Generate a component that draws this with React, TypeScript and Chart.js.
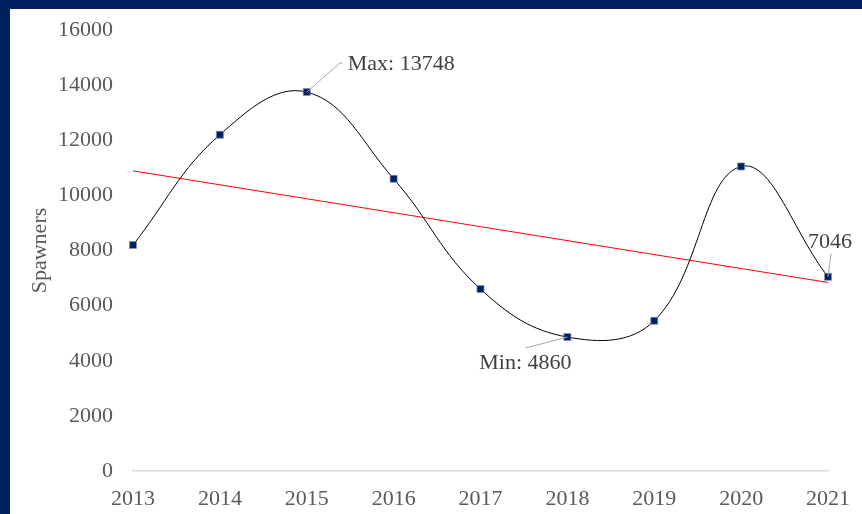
import React, { useEffect, useRef } from "react";
import { Chart, registerables } from "chart.js";

Chart.register(...registerables);

const years = ["2013", "2014", "2015", "2016", "2017", "2018", "2019", "2020", "2021"];
const spawners = [8200, 12200, 13748, 10600, 6600, 4860, 5450, 11050, 7046];
const trend = [10890, null, null, null, null, null, null, null, 6840];
const yTicks = [0, 2000, 4000, 6000, 8000, 10000, 12000, 14000, 16000];

const FONT = "'Liberation Serif', 'Times New Roman', serif";
const NAVY = "#002060";

const labelPlugin = {
  id: "pointLabels",
  afterDatasetsDraw(chart: any) {
    const meta = chart.getDatasetMeta(0);
    const ctx = chart.ctx;
    const pts = meta.data;
    const items = [
      { i: 2, text: "Max: " + spawners[2], lx: 36, ly: -29, kink: 33, tx: 41, ty: -28, align: "left" },
      { i: 5, text: "Min: " + spawners[5], lx: -42, ly: 11, kink: null, tx: -42, ty: 26, align: "center" },
      { i: 8, text: String(spawners[8]), lx: 3, ly: -23, kink: null, tx: 2, ty: -35, align: "center" },
    ];
    ctx.save();
    for (const it of items) {
      const p = pts[it.i];
      ctx.strokeStyle = "#a6a6a6";
      ctx.lineWidth = 1;
      ctx.beginPath();
      ctx.moveTo(p.x, p.y);
      if (it.kink !== null) {
        ctx.lineTo(p.x + it.kink, p.y + it.ly);
      }
      ctx.lineTo(p.x + it.lx, p.y + it.ly);
      ctx.stroke();
      ctx.fillStyle = "#404040";
      ctx.font = "22px " + FONT;
      ctx.textAlign = it.align as CanvasTextAlign;
      ctx.textBaseline = "middle";
      ctx.fillText(it.text, p.x + it.tx, p.y + it.ty);
    }
    ctx.restore();
  },
};

export default function App() {
  const ref = useRef<HTMLCanvasElement>(null);
  useEffect(() => {
    if (!ref.current) return;
    const chart = new Chart(ref.current, {
      type: "line",
      data: {
        labels: years,
        datasets: [
          {
            data: spawners,
            borderColor: "#000000",
            borderWidth: 1,
            tension: 0.4,
            pointStyle: "rect",
            pointRadius: 5,
            pointBackgroundColor: NAVY,
            pointBorderColor: "#8497b0",
            pointBorderWidth: 0.75,
            fill: false,
          },
          {
            data: trend as any,
            borderColor: "#ff0000",
            borderWidth: 1,
            pointRadius: 0,
            spanGaps: true,
            tension: 0,
            fill: false,
          },
        ],
      },
      options: {
        responsive: false,
        animation: false,
        layout: { padding: { top: 21, right: 34, left: 0, bottom: 0 } },
        plugins: { legend: { display: false }, tooltip: { enabled: false } },
        scales: {
          x: {
            offset: false,
            grid: { display: false, drawTicks: false },
            border: { display: true, color: "#d9d9d9", width: 1.5 },
            ticks: {
              color: "#595959",
              font: { family: FONT, size: 22 },
              padding: 15,
              maxRotation: 0,
              autoSkip: false,
            },
            afterFit: (s: any) => {
              s.height = 43;
              s.paddingLeft = 0;
              s.paddingRight = 0;
            },
          },
          y: {
            min: 0,
            max: 16000,
            afterBuildTicks: (s: any) => {
              s.ticks = yTicks.map((v) => ({ value: v }));
            },
            grid: { display: false, drawTicks: false },
            border: { display: false },
            ticks: {
              color: "#595959",
              font: { family: FONT, size: 22 },
              padding: 20,
              callback: (v: any) => String(v),
            },
            title: {
              display: true,
              text: "Spawners",
              color: "#595959",
              font: { family: FONT, size: 22 },
              padding: { top: 17, bottom: 0 },
            },
            afterFit: (s: any) => {
              s.width = 123;
              s.paddingTop = 0;
              s.paddingBottom = 0;
            },
          },
        },
      },
      plugins: [labelPlugin],
    });
    return () => chart.destroy();
  }, []);
  return (
    <div
      style={{
        position: "fixed",
        left: 0,
        top: 0,
        width: 862,
        height: 514,
        background: NAVY,
        overflow: "hidden",
      }}
    >
      <canvas
        ref={ref}
        width={852}
        height={505}
        style={{ position: "absolute", left: 10, top: 9, width: 852, height: 505, background: "#ffffff" }}
      />
    </div>
  );
}
